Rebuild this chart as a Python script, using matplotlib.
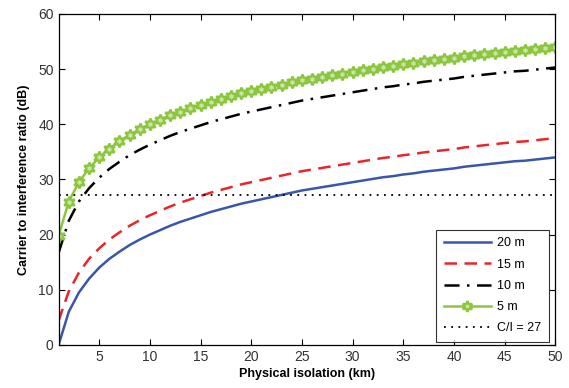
import numpy as np
import matplotlib.pyplot as plt

plt.rcParams['font.family'] = ['Liberation Sans', 'DejaVu Sans']

# physical isolation (km)
distance = list(range(1, 51))

# carrier to interference ratio (dB)
cir_20m = [0.0, 6.0, 9.5, 12.0, 14.0, 15.6, 16.9, 18.1, 19.1, 20.0,
           20.8, 21.6, 22.3, 22.9, 23.5, 24.1, 24.6, 25.1, 25.6, 26.0,
           26.4, 26.8, 27.2, 27.6, 28.0, 28.3, 28.6, 28.9, 29.2, 29.5,
           29.8, 30.1, 30.4, 30.6, 30.9, 31.1, 31.4, 31.6, 31.8, 32.0,
           32.3, 32.5, 32.7, 32.9, 33.1, 33.3, 33.4, 33.6, 33.8, 34.0]
cir_15m = [4.4, 9.7, 13.1, 15.6, 17.5, 19.1, 20.4, 21.6, 22.6, 23.5,
           24.3, 25.1, 25.8, 26.4, 27.0, 27.6, 28.1, 28.6, 29.1, 29.5,
           29.9, 30.3, 30.7, 31.1, 31.5, 31.8, 32.1, 32.4, 32.7, 33.0,
           33.3, 33.6, 33.9, 34.1, 34.4, 34.6, 34.9, 35.1, 35.3, 35.5,
           35.8, 36.0, 36.2, 36.4, 36.6, 36.8, 36.9, 37.1, 37.3, 37.5]
cir_10m = [16.7, 22.5, 26.0, 28.4, 30.3, 31.9, 33.2, 34.4, 35.4, 36.3,
           37.1, 37.9, 38.6, 39.2, 39.8, 40.4, 40.9, 41.4, 41.9, 42.3,
           42.7, 43.1, 43.5, 43.9, 44.3, 44.6, 44.9, 45.2, 45.5, 45.8,
           46.1, 46.4, 46.7, 46.9, 47.2, 47.4, 47.7, 47.9, 48.1, 48.3,
           48.6, 48.8, 49.0, 49.2, 49.4, 49.6, 49.7, 49.9, 50.1, 50.3]
cir_5m = [19.8, 26.0, 29.5, 32.0, 34.0, 35.6, 36.9, 38.1, 39.1, 40.0,
          40.8, 41.6, 42.3, 42.9, 43.5, 44.1, 44.6, 45.1, 45.6, 46.0,
          46.4, 46.8, 47.2, 47.6, 48.0, 48.3, 48.6, 48.9, 49.2, 49.5,
          49.8, 50.1, 50.4, 50.6, 50.9, 51.1, 51.4, 51.6, 51.8, 52.0,
          52.3, 52.5, 52.7, 52.9, 53.1, 53.3, 53.4, 53.6, 53.8, 54.0]
threshold = 27.2

fig = plt.figure(figsize=(5.69, 3.88), dpi=100)
ax = fig.add_axes([0.103, 0.111, 0.873, 0.853])

ax.plot(distance, cir_20m, color='#3a56a8', lw=1.8, label='20 m')
ax.plot(distance, cir_15m, color='#e8262a', lw=1.8, ls=(0, (5, 3)), label='15 m')
ax.plot(distance, cir_10m, color='black', lw=1.8, ls=(0, (6, 3, 1, 3)), label='10 m')
ax.plot(distance, cir_5m, color='#8cc63f', lw=1.8, marker=(6, 1, 0), ms=8.5,
        mfc='#c8e6a0', mec='#8cc63f', mew=1.7, label='5 m')
ax.plot([distance[0], distance[-1]], [threshold, threshold], color='black',
        lw=1.3, ls=(0, (1, 3)), label='C/I = 27')

ax.set_xlim(1, 50)
ax.set_ylim(0, 60)
ax.set_xticks(range(5, 51, 5))
ax.set_yticks(range(0, 61, 10))
ax.tick_params(direction='in', top=True, right=True, length=4, labelsize=10,
               labelcolor='#333333')
for s in ax.spines.values():
    s.set_linewidth(0.9)

ax.set_xlabel('Physical isolation (km)', fontsize=9, fontweight='bold', labelpad=3)
ax.set_ylabel('Carrier to interference ratio (dB)', fontsize=9, fontweight='bold', labelpad=6)

leg = ax.legend(loc='lower right', fontsize=9, fancybox=False, edgecolor='black',
                handlelength=3.8, borderpad=0.6, labelspacing=0.74, numpoints=1,
                handletextpad=0.5, borderaxespad=0,
                bbox_to_anchor=(0.987, 0.009), markerscale=0.9)
leg.get_frame().set_linewidth(0.8)

fig.savefig('out.png', dpi=100)
